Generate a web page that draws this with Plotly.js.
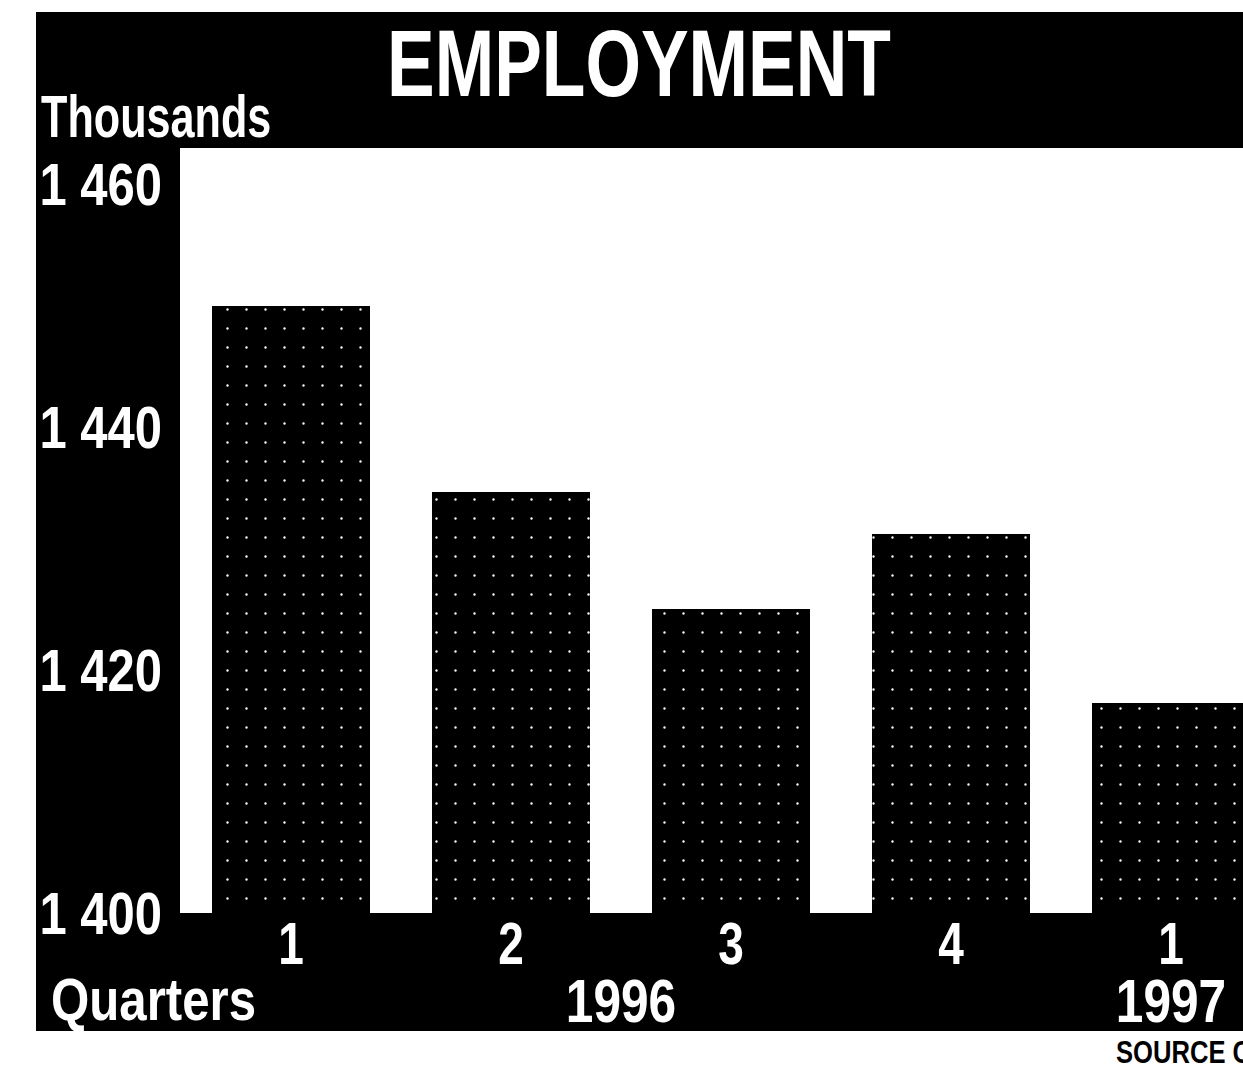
<!DOCTYPE html>
<html>
<head>
<meta charset="utf-8">
<script src="https://cdn.plot.ly/plotly-3.0.1.min.js"></script>
<style>
  html, body { margin: 0; padding: 0; overflow: hidden; background: #ffffff; }
  #chart { width: 1300px; height: 1066px; }
</style>
</head>
<body>
<div id="chart"></div>
<script>
// Employment by quarter, thousands
const quarters = ["1", "2", "3", "4", "1"];
const years = ["1996", "1996", "1996", "1996", "1997"];
const employment = [1450, 1434.7, 1425, 1431.2, 1417.3];
const yTickValues = [1400, 1420, 1440, 1460];
const yTickLabels = ["1 400", "1 420", "1 440", "1 460"];

const FONT = "'Liberation Sans', Arial, sans-serif";

// Page geometry (px)
const W = 1300, H = 1066;
const M = { l: 180, r: 19, t: 148, b: 153 };
const pw = W - M.l - M.r, ph = H - M.t - M.b;
const px = v => (v - M.l) / pw;
const py = v => (H - M.b - v) / ph;

const idx = quarters.map((_, i) => i);
const white = size => ({ family: FONT, size: size, color: "#ffffff", weight: 700 });

// year labels centred under their quarters
const yearNames = [...new Set(years)];
const yearAnnotations = yearNames.map(y => {
  const pos = idx.filter(i => years[i] === y);
  const c = pos.reduce((a, b) => a + b, 0) / pos.length;
  return {
    text: y, xref: "x", yref: "paper", x: c, y: py(1000),
    xanchor: "center", yanchor: "middle", showarrow: false,
    font: white(62), name: "year"
  };
});

const trace = {
  type: "bar",
  x: idx,
  y: employment,
  width: 0.72,
  marker: {
    color: "#000000",
    line: { width: 0 },
    pattern: { shape: ".", fgcolor: "#ffffff", bgcolor: "#000000", size: 19, solidity: 0.012 }
  },
  hoverinfo: "skip"
};

const layout = {
  width: W, height: H,
  margin: M,
  paper_bgcolor: "rgba(0,0,0,0)",
  plot_bgcolor: "rgba(0,0,0,0)",
  showlegend: false,
  bargap: 0,
  title: {
    text: "EMPLOYMENT",
    x: 639 / W, xanchor: "center", xref: "container",
    y: 1 - 63 / H, yanchor: "middle", yref: "container",
    font: white(94)
  },
  xaxis: {
    range: [-0.505, 4.5],
    tickvals: idx,
    ticktext: quarters,
    showgrid: false, zeroline: false, showline: false, ticks: "",
    ticklabelstandoff: -9,
    tickfont: white(59),
    fixedrange: true
  },
  yaxis: {
    range: [1400, 1463],
    tickvals: yTickValues,
    ticktext: yTickLabels,
    showgrid: false, zeroline: false, showline: false, ticks: "",
    ticklabelstandoff: 17,
    tickfont: white(59),
    fixedrange: true
  },
  shapes: [
    // black frame behind the whole graphic
    { type: "rect", xref: "paper", yref: "paper", layer: "below",
      x0: px(36), x1: px(W - 4), y0: py(1031), y1: py(12),
      fillcolor: "#000000", line: { width: 0 } },
    // white plotting panel
    { type: "rect", xref: "paper", yref: "paper", layer: "below",
      x0: 0, x1: 1, y0: 0, y1: 1,
      fillcolor: "#ffffff", line: { width: 0 } }
  ],
  annotations: [
    { text: "Thousands", xref: "paper", yref: "paper", x: px(39), y: py(117),
      xanchor: "left", yanchor: "middle", showarrow: false,
      font: white(60), name: "thousands" },
    { text: "Quarters", xref: "paper", yref: "paper", x: px(49), y: py(999),
      xanchor: "left", yanchor: "middle", showarrow: false,
      font: white(60), name: "quarters" },
    { text: "SOURCE CSO", xref: "paper", yref: "paper", x: px(1114), y: py(1052),
      xanchor: "left", yanchor: "middle", showarrow: false,
      font: { family: FONT, size: 32, color: "#000000", weight: 700 }, name: "source" },
    ...yearAnnotations
  ]
};

// Condensed lettering: squeeze text horizontally about a fixed edge
function condense(el, s, pivot) {
  const bb = el.getBBox();
  const p = pivot === "left" ? bb.x : pivot === "right" ? bb.x + bb.width : bb.x + bb.width / 2;
  const t = el.getAttribute("transform") || "";
  el.setAttribute("transform", `${t} translate(${p},0) scale(${s},1) translate(${-p},0)`);
}

Plotly.newPlot("chart", [trace], layout, { staticPlot: true, displayModeBar: false }).then(gd => {
  gd.querySelectorAll(".gtitle").forEach(el => condense(el, 0.76, "center"));
  gd.querySelectorAll(".xtick text").forEach(el => condense(el, 0.78, "center"));
  gd.querySelectorAll(".ytick text").forEach(el => condense(el, 0.83, "right"));
  const annScale = { thousands: [0.72, "left"], quarters: [0.82, "left"], source: [0.8, "left"], year: [0.8, "center"] };
  const anns = gd.querySelectorAll(".annotation");
  gd.layout.annotations.forEach((a, i) => {
    const el = anns[i] && anns[i].querySelector("text.annotation-text");
    const cfg = annScale[a.name];
    if (el && cfg) condense(el, cfg[0], cfg[1]);
  });
});
</script>
</body>
</html>
